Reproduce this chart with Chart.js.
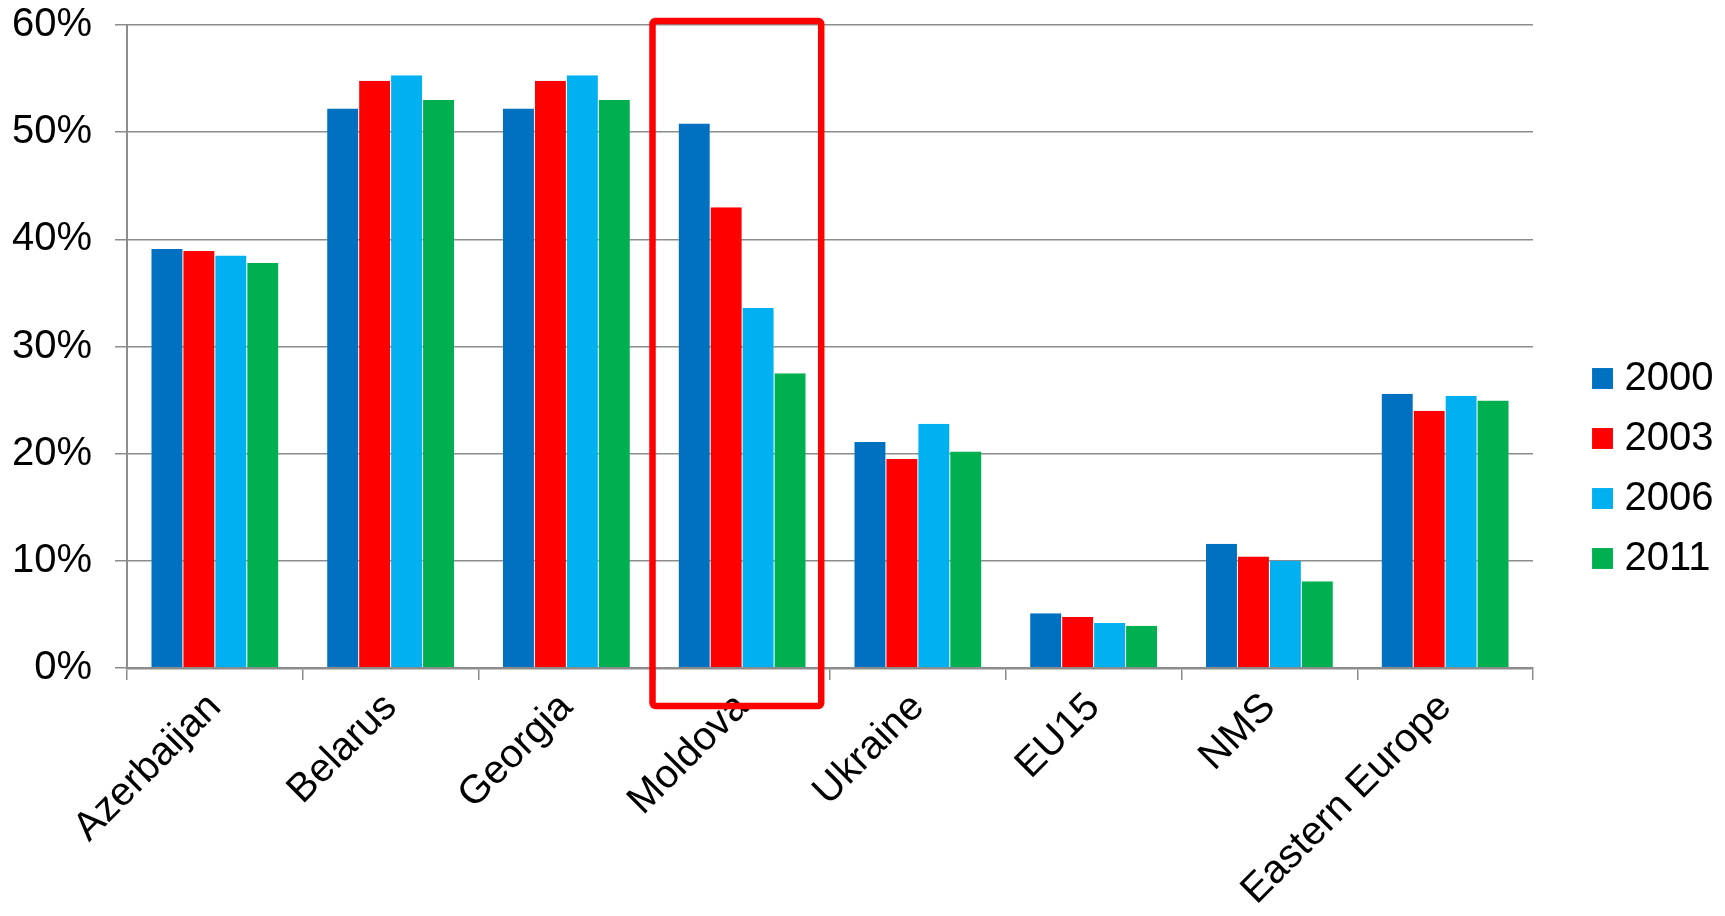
<!DOCTYPE html>
<html>
<head>
<meta charset="utf-8">
<script src="https://cdn.jsdelivr.net/npm/chart.js@4/dist/chart.umd.min.js"></script>
<style>
  html, body { margin: 0; padding: 0; background: #fff; }
  #wrap { width: 1725px; height: 916px; position: relative; }
</style>
</head>
<body>
<div id="wrap"><canvas id="c" width="1725" height="916"></canvas></div>
<script>
const categories = ["Azerbaijan", "Belarus", "Georgia", "Moldova", "Ukraine", "EU15", "NMS", "Eastern Europe"];
const seriesNames = ["2000", "2003", "2006", "2011"];
const values2000 = [39.1, 52.2, 52.2, 50.8, 21.1, 5.1, 11.6, 25.6];
const values2003 = [38.9, 54.8, 54.8, 43.0, 19.5, 4.75, 10.4, 24.0];
const values2006 = [38.5, 55.3, 55.3, 33.6, 22.8, 4.2, 10.0, 25.4];
const values2011 = [37.8, 53.0, 53.0, 27.5, 20.2, 3.95, 8.1, 24.95];
const seriesColors = ["#0070C0", "#FF0000", "#00B0F0", "#00B050"];
const yTicks = [0, 10, 20, 30, 40, 50, 60];
const highlightCategory = "Moldova";

const FONT = "'Liberation Sans', Arial, sans-serif";
const GRID = "#8c8c8c";
const FS = 40;
const LEG_BOX_W = 4;

const highlightPlugin = {
  id: "highlight",
  afterDatasetsDraw(chart) {
    const x = chart.scales.x, y = chart.scales.y;
    const idx = categories.indexOf(highlightCategory);
    const cw = (x.right - x.left) / categories.length;
    const cx = x.getPixelForValue(idx);
    const left = cx - 0.51 * cw, right = cx + 0.45 * cw;
    const top = y.top - 4, bottom = y.bottom + 38;
    const ctx = chart.ctx;
    ctx.save();
    ctx.strokeStyle = "#FF0000";
    ctx.lineWidth = 6.5;
    ctx.lineJoin = "round";
    ctx.beginPath();
    ctx.roundRect(left, top, right - left, bottom - top, 3);
    ctx.stroke();
    ctx.restore();
  }
};

const legendShift = {
  id: "legendShift",
  afterLayout(chart) {
    const lg = chart.legend;
    if (!lg) return;
    const dx = (chart.chartArea.right + 47.5) - lg.left;
    lg.left += dx; lg.right += dx;
    lg.top -= 2; lg.bottom -= 2;
    if (lg.adjustHitBoxes) lg.adjustHitBoxes();
  }
};

const datasets = [values2000, values2003, values2006, values2011].map((v, i) => ({
  label: seriesNames[i],
  data: v,
  backgroundColor: seriesColors[i],
  borderColor: "rgba(255,255,255,0.35)",
  borderWidth: { left: 0.5, right: 0.5, top: 0, bottom: 0 },
  categoryPercentage: 0.727,
  barPercentage: 1.0
}));

new Chart(document.getElementById("c"), {
  type: "bar",
  data: { labels: categories, datasets },
  options: {
    responsive: false,
    animation: false,
    devicePixelRatio: 1,
    layout: { padding: { left: 0, top: 25, right: 49, bottom: 0 } },
    plugins: {
      tooltip: { enabled: false },
      legend: {
        position: "right",
        labels: {
          usePointStyle: true,
          pointStyle: "rect",
          boxWidth: LEG_BOX_W,
          boxHeight: 21,
          padding: 20,
          color: "#000",
          font: { family: FONT, size: FS }
        }
      }
    },
    scales: {
      x: {
        afterFit(scale) { scale.height = 248; scale.paddingLeft = 0; scale.paddingRight = 0; },
        grid: { offset: true, drawOnChartArea: false, drawTicks: true, tickLength: 12, color: GRID, lineWidth: 1.5 },
        border: { color: GRID, width: 2.5 },
        ticks: {
          color: "#000",
          font: { family: FONT, size: FS },
          minRotation: 45, maxRotation: 45,
          padding: 4,
          autoSkip: false
        }
      },
      y: {
        min: 0, max: 60,
        afterBuildTicks(scale) { scale.ticks = yTicks.map(v => ({ value: v })); },
        afterFit(scale) { scale.width = 127; scale.paddingTop = 0; scale.paddingBottom = 0; },
        grid: { color: GRID, lineWidth: 1.5, tickLength: 12 },
        border: { color: GRID, width: 2 },
        ticks: {
          color: "#000",
          font: { family: FONT, size: FS },
          padding: 23,
          callback: v => v + "%"
        }
      }
    }
  },
  plugins: [highlightPlugin, legendShift]
});
</script>
</body>
</html>
